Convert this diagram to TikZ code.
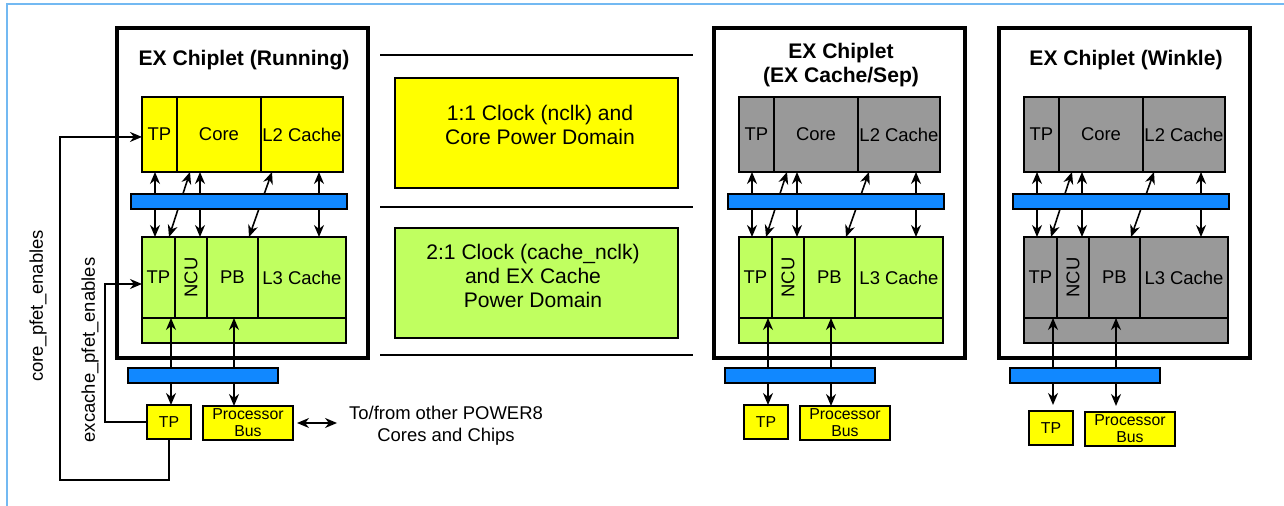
\documentclass[tikz,border=0pt]{standalone}
\usepackage{fontspec}
\setmainfont{Liberation Sans}
\usetikzlibrary{arrows.meta, positioning, calc}
\definecolor{cyellow}{HTML}{FFFF00}
\definecolor{cgreen}{HTML}{C0FF60}
\definecolor{cgrey}{HTML}{999999}
\definecolor{cblue}{HTML}{1188FF}
\definecolor{cframe}{HTML}{73B9F2}
\tikzset{
  every picture/.style={line width=1.1pt},
  chip/.style={draw, line width=1.8pt, minimum width=5.02cm, minimum height=6.6cm, anchor=north west, inner sep=0pt, outer sep=0pt},
  cell/.style={draw, fill=#1, inner sep=0pt, outer sep=0pt, minimum height=1.5cm, font=\fontsize{10.5}{12}\selectfont},
  cell/.default=cgrey,
  bar/.style={draw, fill=cblue, inner sep=0pt, outer sep=0pt, minimum height=0.3cm, anchor=north west},
  smallbox/.style={draw, fill=cyellow, inner sep=0pt, outer sep=0pt, minimum height=0.68cm, anchor=north west, align=center, font=\fontsize{9}{9.7}\selectfont},
  dbl/.style={{Stealth[length=2.4mm,width=2mm]}-{Stealth[length=2.4mm,width=2mm]}, line width=0.9pt},
  arrow/.style={-{Stealth[length=2.4mm,width=2mm]}, line width=0.9pt},
  title/.style={font=\fontsize{12}{14}\selectfont\bfseries, align=center},
  note/.style={font=\fontsize{10.5}{12.5}\selectfont, align=center},
  domain/.style={draw, fill=#1, outer sep=0pt, minimum width=5.66cm, minimum height=2.2cm, anchor=north west},
  dtext/.style={font=\fontsize{12}{13.6}\selectfont, align=center},
  sep/.style={line width=1.7pt},
}

\begin{document}
\begin{tikzpicture}[x=0.02cm, y=-0.02cm]
  \useasboundingbox (0,0) rectangle (1284,506);
  \draw[cframe, line width=1.2pt] (7,506) -- (7,4) -- (1284,4);
  % the three EX chiplets
  \foreach \i/\dx/\ctop/\cbot/\gap/\ty/\ttl in {1/0/cyellow/cgreen/0/60/{EX Chiplet (Running)}, 2/597/cgrey/cgreen/0/65/{EX Chiplet\\(EX Cache/Sep)}, 3/882/cgrey/cgrey/6/60/{EX Chiplet (Winkle)}} {
    \begin{scope}[shift={(\dx,0)}]
      \node[chip] (chip\i) at (117,28) {};
      \node[title] (ttl\i) at (244,\ty) {\ttl};
      \node[cell=\ctop, minimum width=0.70cm, anchor=north west] (tp\i) at (142,97) {TP};
      \node[cell=\ctop, minimum width=1.68cm, right=0pt of tp\i] (core\i) {Core};
      \node[cell=\ctop, minimum width=1.64cm, right=0pt of core\i] (ltwo\i) {L2 Cache};
      \node[cell=\cbot, minimum width=0.66cm, minimum height=1.62cm, anchor=north west] (gtp\i) at (142,237) {TP};
      \node[cell=\cbot, minimum width=0.64cm, minimum height=1.62cm, right=0pt of gtp\i] (ncu\i) {\rotatebox{90}{NCU}};
      \node[cell=\cbot, minimum width=1.02cm, minimum height=1.62cm, right=0pt of ncu\i] (pb\i) {PB};
      \node[cell=\cbot, minimum width=1.76cm, minimum height=1.62cm, right=0pt of pb\i] (lthree\i) {L3 Cache};
      \node[cell=\cbot, minimum width=4.08cm, minimum height=0.5cm, anchor=north west] (strip\i) at (gtp\i.south west) {};
      \node[smallbox, minimum width=0.88cm] (tpb\i) at (147,405+\gap) {TP};
      \node[smallbox, minimum width=1.8cm] (pbus\i) at (203,406+\gap) {Processor\\Bus};
      \foreach \a/\b in {155/155, 200/200, 319/319, 169/190, 249/272}
        \draw[dbl] (\a,0 |- gtp\i.north) -- (\b,0 |- tp\i.south);
      \draw[dbl, shorten >=\gap*0.57pt] (171,0 |- strip\i.north) -- (171,0 |- tpb\i.north);
      \draw[dbl, shorten >=\gap*0.57pt] (234,0 |- strip\i.north) -- (234,0 |- pbus\i.north);
      \node[bar, minimum width=4.32cm] (bar\i) at (131,194) {};
      \node[bar, minimum width=3.0cm] (bus\i) at (128,368) {};
    \end{scope}
  }
  % clock and power domains
  \draw[sep] (380,55) -- (693,55);
  \draw[sep] (380,207) -- (693,207);
  \draw[sep] (380,355) -- (693,355);
  \node[domain=cyellow] (clk1) at (395,78) {};
  \node[domain=cgreen] (clk2) at (395,228) {};
  \node[dtext] (clk1txt) at (540,125) {1:1 Clock (nclk) and\\Core Power Domain};
  \node[dtext] (clk2txt) at (533,276) {2:1 Clock (cache\_nclk)\\and EX Cache\\Power Domain};
  % enables from the TP
  \coordinate (cpfet) at (60,480);
  \coordinate (xpfet) at (105,350);
  \draw[arrow] (tpb1.south) |- (cpfet) |- ([yshift=-1.4pt]tp1.west);
  \draw[arrow] (tpb1.west) -| (xpfet) |- ([yshift=-3.7pt]gtp1.west);
  \node[note, rotate=90] (cpfettxt) at (38,306) {core\_pfet\_enables};
  \node[note, rotate=90] (xpfettxt) at (90,350) {excache\_pfet\_enables};
  \node[note] (other) at (446,426) {To/from other POWER8\\Cores and Chips};
  \draw[dbl, shorten <=2.3pt, shorten >=3pt] (pbus1.east) -- (other.west |- pbus1.east);
\end{tikzpicture}
\end{document}
